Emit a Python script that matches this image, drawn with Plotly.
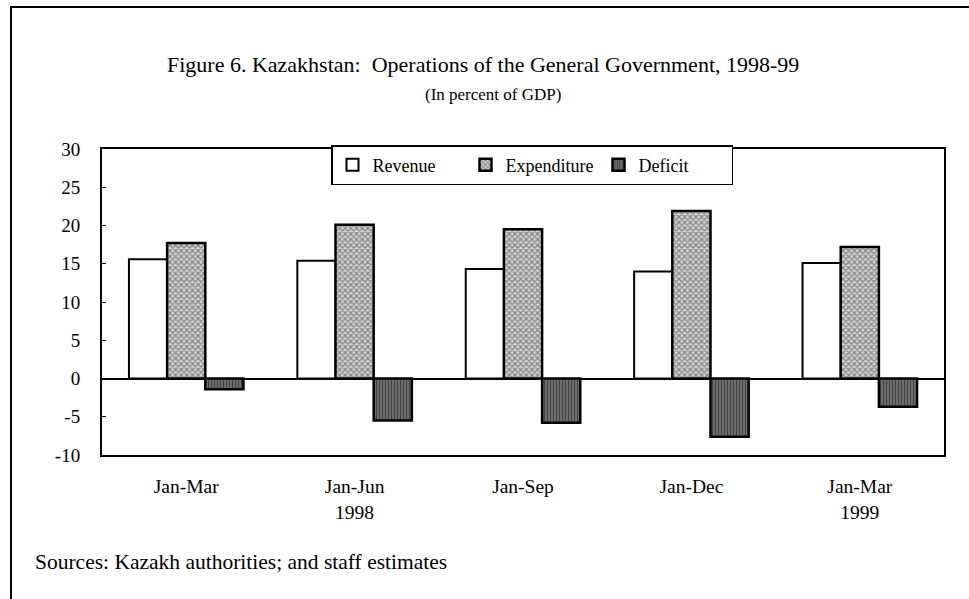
import plotly.graph_objects as go

categories = ["Jan-Mar", "Jan-Jun<br>1998", "Jan-Sep", "Jan-Dec", "Jan-Mar<br>1999"]
revenue = [15.6, 15.4, 14.3, 14.0, 15.1]
expenditure = [17.7, 20.1, 19.5, 21.9, 17.2]
deficit = [-1.4, -5.5, -5.8, -7.6, -3.7]
y_ticks = [30, 25, 20, 15, 10, 5, 0, -5, -10]

W, H = 969, 599
L, R, T, B = 102, 25, 149, 144
pw, ph = W - L - R, H - T - B

def px_x(p):
    return (p - L) / pw

def px_y(p):
    return (H - B - p) / ph

FONT = "Liberation Serif"

fig = go.Figure()
fig.add_trace(go.Bar(
    name="Revenue", x=categories, y=revenue,
    marker=dict(color="white", line=dict(color="black", width=2)),
))
fig.add_trace(go.Bar(
    name="Expenditure", x=categories, y=expenditure,
    marker=dict(color="#bbbbbb", line=dict(color="black", width=2.5),
                pattern=dict(shape="x", size=4, solidity=0.5, fgcolor="#333333", bgcolor="#d4d4d4")),
))
fig.add_trace(go.Bar(
    name="Deficit", x=categories, y=deficit,
    marker=dict(color="#555555", line=dict(color="black", width=2.5),
                pattern=dict(shape="|", size=3, solidity=0.6, fgcolor="#000000", bgcolor="#888888")),
))

fig.update_layout(
    width=W, height=H,
    margin=dict(l=L, r=R, t=T, b=B),
    paper_bgcolor="white", plot_bgcolor="white",
    barmode="group", bargap=0.32, bargroupgap=0,
    font=dict(family=FONT, size=18, color="black"),
    showlegend=True,
    legend=dict(
        orientation="h", x=px_x(331), y=px_y(145), xanchor="left", yanchor="top",
        bordercolor="black", borderwidth=1.5, bgcolor="white",
        font=dict(family=FONT, size=18, color="black"),
        entrywidth=88, itemwidth=30, tracegroupgap=0,
    ),
    xaxis=dict(
        showline=True, linecolor="black", linewidth=2, mirror=True,
        ticks="", tickfont=dict(family=FONT, size=19.5), ticklabelstandoff=13,
        showgrid=False,
    ),
    yaxis=dict(
        range=[-10, 30], tickvals=y_ticks, ticktext=[str(v) for v in y_ticks],
        showline=True, linecolor="black", linewidth=2, mirror=True,
        ticks="inside", ticklen=4, tickcolor="black", tickwidth=1,
        showgrid=False, zeroline=True, zerolinecolor="black", zerolinewidth=1.5,
        tickfont=dict(family=FONT, size=19), ticklabelstandoff=16,
    ),
    annotations=[
        dict(text="Figure 6. Kazakhstan:  Operations of the General Government, 1998-99",
             xref="paper", yref="paper", x=px_x(165), y=px_y(64), xanchor="left", yanchor="middle",
             showarrow=False, font=dict(family=FONT, size=22)),
        dict(text="(In percent of GDP)",
             xref="paper", yref="paper", x=px_x(493), y=px_y(95), xanchor="center", yanchor="middle",
             showarrow=False, font=dict(family=FONT, size=17)),
        dict(text="Sources: Kazakh authorities; and staff estimates",
             xref="paper", yref="paper", x=px_x(33), y=px_y(562), xanchor="left", yanchor="middle",
             showarrow=False, font=dict(family=FONT, size=21.5)),
    ],
    shapes=[
        dict(type="line", xref="paper", yref="paper", x0=px_x(10), x1=px_x(969), y0=px_y(7), y1=px_y(7),
             line=dict(color="black", width=2)),
        dict(type="line", xref="paper", yref="paper", x0=px_x(11), x1=px_x(11), y0=px_y(7), y1=px_y(599),
             line=dict(color="black", width=2)),
    ],
)

fig.write_html("out.html", config={"displayModeBar": False},
               post_script="document.body.style.margin='0px';document.body.style.overflow='hidden';")
